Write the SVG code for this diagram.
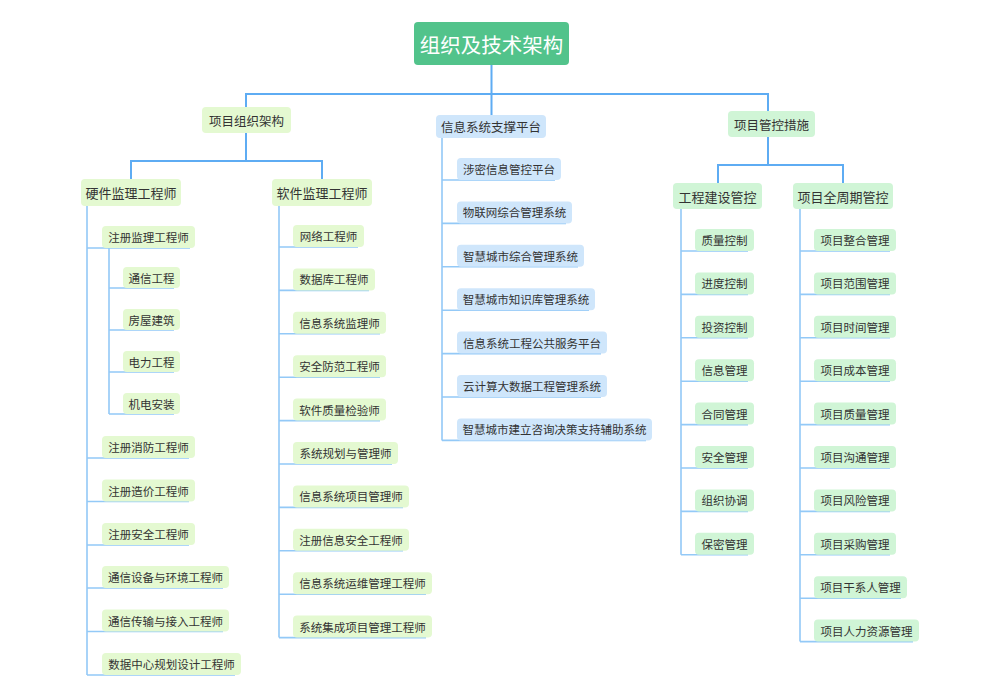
<svg xmlns="http://www.w3.org/2000/svg" width="1000" height="699" viewBox="0 0 1000 699">
<style>
text{font-family:"Noto Sans CJK SC","Noto Sans",sans-serif;fill:#333;text-anchor:middle;dominant-baseline:central}
.lime{fill:#e4f9d1}
.mint{fill:#d0f5d6}
.blue{fill:#cfe6fb}
.t2{font-size:12.5px}
.t3{font-size:13px}
.lf{font-size:11.5px}
.main{stroke:#5eacf3;stroke-width:2;fill:none}
.tr{stroke:#93c9f7;stroke-width:1.6;fill:none}
</style>
<rect width="1000" height="699" fill="#fff"/>
<g id="connectors">
<path class="main" d="M491.5 65V94M246 107V94H768V111M491.5 94V115"/>
<path class="main" d="M246 133V161M131 179V161H322V179"/>
<path class="main" d="M768 137V165M718 183V165H843V183"/>
<path class="tr" d="M87 206V675M87 248H190M87 458H189M87 501.5H189M87 545H189M87 588H223M87 631.5H223M87 675H235"/>
<path class="tr" d="M109 248V414M109 288H174M109 330H174M109 372H174M109 414H174"/>
<path class="tr" d="M279 206V637.6M279 247H358M279 290.4H369M279 333.8H380M279 377.2H380M279 420.6H380M279 464H392M279 507.4H403M279 550.8H403M279 594.2H426M279 637.6H426"/>
<path class="tr" d="M442 138V440.4M442 180H555M442 223.4H566M442 266.8H578M442 310.2H589M442 353.6H601M442 397H601M442 440.4H646"/>
<path class="tr" d="M681 209V554.8M681 251H748M681 294.4H748M681 337.8H748M681 381.2H748M681 424.6H748M681 468H748M681 511.4H748M681 554.8H748"/>
<path class="tr" d="M800 209V641.6M800 251H890M800 294.4H890M800 337.8H890M800 381.2H890M800 424.6H890M800 468H890M800 511.4H890M800 554.8H890M800 598.2H901M800 641.6H913"/>
</g>
<g id="root"><rect x="414" y="22" width="155" height="43" rx="4" fill="#52c38b"/><text x="491.5" y="43.5" style="font-size:20.5px;fill:#fff">组织及技术架构</text></g>
<g id="n-org"><rect class="lime" x="202" y="107" width="89" height="26" rx="4"/><text class="t2" x="246.5" y="120">项目组织架构</text></g>
<g id="n-info"><rect class="blue" x="436" y="115" width="110" height="23" rx="4"/><text class="t2" x="491" y="126.5">信息系统支撑平台</text></g>
<g id="n-ctrl"><rect class="mint" x="728" y="111" width="87" height="26" rx="4"/><text class="t2" x="771.5" y="124">项目管控措施</text></g>
<g id="n-hw"><rect class="lime" x="81" y="179" width="100" height="27" rx="4"/><text class="t3" x="131" y="192.5">硬件监理工程师</text></g>
<g id="n-sw"><rect class="lime" x="272" y="179" width="100" height="27" rx="4"/><text class="t3" x="322" y="192.5">软件监理工程师</text></g>
<g id="n-build"><rect class="mint" x="673" y="183" width="89" height="26" rx="4"/><text class="t3" x="717.5" y="196">工程建设管控</text></g>
<g id="n-life"><rect class="mint" x="793" y="183" width="100" height="26" rx="4"/><text class="t3" x="843" y="196">项目全周期管控</text></g>
<g id="hw-1"><rect class="lime" x="102" y="226" width="93" height="22" rx="4"/><text class="lf" x="148.5" y="237">注册监理工程师</text></g>
<g id="hw-1a"><rect class="lime" x="123" y="267" width="57" height="21" rx="4"/><text class="lf" x="151.5" y="277.5">通信工程</text></g>
<g id="hw-1b"><rect class="lime" x="123" y="309" width="57" height="21" rx="4"/><text class="lf" x="151.5" y="319.5">房屋建筑</text></g>
<g id="hw-1c"><rect class="lime" x="123" y="351" width="57" height="21" rx="4"/><text class="lf" x="151.5" y="361.5">电力工程</text></g>
<g id="hw-1d"><rect class="lime" x="123" y="393" width="57" height="21" rx="4"/><text class="lf" x="151.5" y="403.5">机电安装</text></g>
<g id="hw-2"><rect class="lime" x="102" y="436" width="93" height="22" rx="4"/><text class="lf" x="148.5" y="447">注册消防工程师</text></g>
<g id="hw-3"><rect class="lime" x="102" y="479.5" width="93" height="22" rx="4"/><text class="lf" x="148.5" y="490.5">注册造价工程师</text></g>
<g id="hw-4"><rect class="lime" x="102" y="523" width="93" height="22" rx="4"/><text class="lf" x="148.5" y="534">注册安全工程师</text></g>
<g id="hw-5"><rect class="lime" x="102" y="566" width="127" height="22" rx="4"/><text class="lf" x="165.5" y="577">通信设备与环境工程师</text></g>
<g id="hw-6"><rect class="lime" x="102" y="609.5" width="127" height="22" rx="4"/><text class="lf" x="165.5" y="620.5">通信传输与接入工程师</text></g>
<g id="hw-7"><rect class="lime" x="102" y="653" width="139" height="22" rx="4"/><text class="lf" x="171.5" y="664">数据中心规划设计工程师</text></g>
<g id="sw-1"><rect class="lime" x="293" y="225" width="71" height="22" rx="4"/><text class="lf" x="328.5" y="236">网络工程师</text></g>
<g id="sw-2"><rect class="lime" x="293" y="268.4" width="82" height="22" rx="4"/><text class="lf" x="334" y="279.4">数据库工程师</text></g>
<g id="sw-3"><rect class="lime" x="293" y="311.8" width="93" height="22" rx="4"/><text class="lf" x="339.5" y="322.8">信息系统监理师</text></g>
<g id="sw-4"><rect class="lime" x="293" y="355.2" width="93" height="22" rx="4"/><text class="lf" x="339.5" y="366.2">安全防范工程师</text></g>
<g id="sw-5"><rect class="lime" x="293" y="398.6" width="93" height="22" rx="4"/><text class="lf" x="339.5" y="409.6">软件质量检验师</text></g>
<g id="sw-6"><rect class="lime" x="293" y="442" width="105" height="22" rx="4"/><text class="lf" x="345.5" y="453">系统规划与管理师</text></g>
<g id="sw-7"><rect class="lime" x="293" y="485.4" width="116" height="22" rx="4"/><text class="lf" x="351" y="496.4">信息系统项目管理师</text></g>
<g id="sw-8"><rect class="lime" x="293" y="528.8" width="116" height="22" rx="4"/><text class="lf" x="351" y="539.8">注册信息安全工程师</text></g>
<g id="sw-9"><rect class="lime" x="293" y="572.2" width="139" height="22" rx="4"/><text class="lf" x="362.5" y="583.2">信息系统运维管理工程师</text></g>
<g id="sw-10"><rect class="lime" x="293" y="615.6" width="139" height="22" rx="4"/><text class="lf" x="362.5" y="626.6">系统集成项目管理工程师</text></g>
<g id="is-1"><rect class="blue" x="457" y="158" width="104" height="22" rx="4"/><text class="lf" x="509" y="169">涉密信息管控平台</text></g>
<g id="is-2"><rect class="blue" x="457" y="201.4" width="115" height="22" rx="4"/><text class="lf" x="514.5" y="212.4">物联网综合管理系统</text></g>
<g id="is-3"><rect class="blue" x="457" y="244.8" width="127" height="22" rx="4"/><text class="lf" x="520.5" y="255.8">智慧城市综合管理系统</text></g>
<g id="is-4"><rect class="blue" x="457" y="288.2" width="138" height="22" rx="4"/><text class="lf" x="526" y="299.2">智慧城市知识库管理系统</text></g>
<g id="is-5"><rect class="blue" x="457" y="331.6" width="150" height="22" rx="4"/><text class="lf" x="532" y="342.6">信息系统工程公共服务平台</text></g>
<g id="is-6"><rect class="blue" x="457" y="375" width="150" height="22" rx="4"/><text class="lf" x="532" y="386">云计算大数据工程管理系统</text></g>
<g id="is-7"><rect class="blue" x="457" y="418.4" width="195" height="22" rx="4"/><text class="lf" x="554.5" y="429.4">智慧城市建立咨询决策支持辅助系统</text></g>
<g id="cb-1"><rect class="mint" x="695" y="229" width="59" height="22" rx="4"/><text class="lf" x="724.5" y="240">质量控制</text></g>
<g id="cb-2"><rect class="mint" x="695" y="272.4" width="59" height="22" rx="4"/><text class="lf" x="724.5" y="283.4">进度控制</text></g>
<g id="cb-3"><rect class="mint" x="695" y="315.8" width="59" height="22" rx="4"/><text class="lf" x="724.5" y="326.8">投资控制</text></g>
<g id="cb-4"><rect class="mint" x="695" y="359.2" width="59" height="22" rx="4"/><text class="lf" x="724.5" y="370.2">信息管理</text></g>
<g id="cb-5"><rect class="mint" x="695" y="402.6" width="59" height="22" rx="4"/><text class="lf" x="724.5" y="413.6">合同管理</text></g>
<g id="cb-6"><rect class="mint" x="695" y="446" width="59" height="22" rx="4"/><text class="lf" x="724.5" y="457">安全管理</text></g>
<g id="cb-7"><rect class="mint" x="695" y="489.4" width="59" height="22" rx="4"/><text class="lf" x="724.5" y="500.4">组织协调</text></g>
<g id="cb-8"><rect class="mint" x="695" y="532.8" width="59" height="22" rx="4"/><text class="lf" x="724.5" y="543.8">保密管理</text></g>
<g id="lc-1"><rect class="mint" x="814" y="229" width="82" height="22" rx="4"/><text class="lf" x="855" y="240">项目整合管理</text></g>
<g id="lc-2"><rect class="mint" x="814" y="272.4" width="82" height="22" rx="4"/><text class="lf" x="855" y="283.4">项目范围管理</text></g>
<g id="lc-3"><rect class="mint" x="814" y="315.8" width="82" height="22" rx="4"/><text class="lf" x="855" y="326.8">项目时间管理</text></g>
<g id="lc-4"><rect class="mint" x="814" y="359.2" width="82" height="22" rx="4"/><text class="lf" x="855" y="370.2">项目成本管理</text></g>
<g id="lc-5"><rect class="mint" x="814" y="402.6" width="82" height="22" rx="4"/><text class="lf" x="855" y="413.6">项目质量管理</text></g>
<g id="lc-6"><rect class="mint" x="814" y="446" width="82" height="22" rx="4"/><text class="lf" x="855" y="457">项目沟通管理</text></g>
<g id="lc-7"><rect class="mint" x="814" y="489.4" width="82" height="22" rx="4"/><text class="lf" x="855" y="500.4">项目风险管理</text></g>
<g id="lc-8"><rect class="mint" x="814" y="532.8" width="82" height="22" rx="4"/><text class="lf" x="855" y="543.8">项目采购管理</text></g>
<g id="lc-9"><rect class="mint" x="814" y="576.2" width="93" height="22" rx="4"/><text class="lf" x="860.5" y="587.2">项目干系人管理</text></g>
<g id="lc-10"><rect class="mint" x="814" y="619.6" width="105" height="22" rx="4"/><text class="lf" x="866.5" y="630.6">项目人力资源管理</text></g>
</svg>
